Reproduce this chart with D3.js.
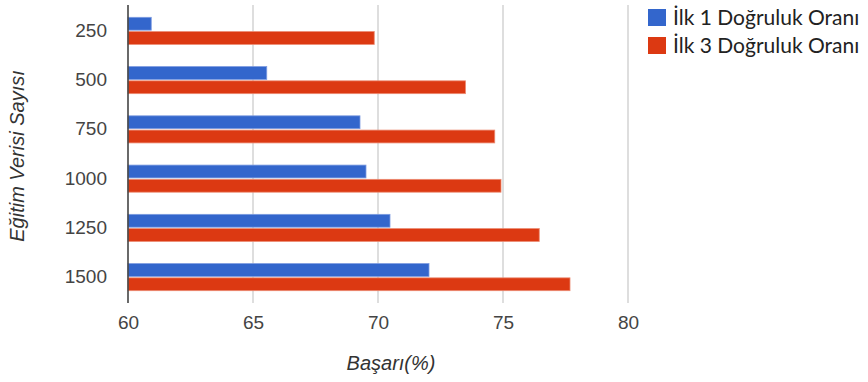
<!DOCTYPE html>
<html>
<head>
<meta charset="utf-8">
<script src="https://cdn.jsdelivr.net/npm/d3@7"></script>
<style>
  html, body { margin: 0; padding: 0; background: #fff; }
  svg { display: block; }
</style>
</head>
<body>
<svg id="chart" width="868" height="382"></svg>
<script>
const categories = ["250", "500", "750", "1000", "1250", "1500"];
const seriesNames = ["İlk 1 Doğruluk Oranı", "İlk 3 Doğruluk Oranı"];
const ilk1 = [60.93, 65.55, 69.28, 69.52, 70.48, 72.04];
const ilk3 = [69.85, 73.5, 74.67, 74.92, 76.45, 77.68];
const xTicks = [60, 65, 70, 75, 80];
const colors = ["#3366cc", "#dc3912"];
const strokeColors = ["#7d9be0", "#ec8a72"];

const svg = d3.select("#chart");
const plotLeft = 128, plotRight = 628, plotTop = 5, plotBottom = 303;

const x = d3.scaleLinear().domain([60, 80]).range([plotLeft, plotRight]);
const y0 = d3.scaleBand().domain(categories).range([plotTop, plotBottom]).paddingInner(0.45).paddingOuter(0.25);
const y1 = d3.scaleBand().domain(seriesNames).range([0, y0.bandwidth()]).paddingInner(0.1);

// gridlines
svg.append("g").selectAll("line").data(xTicks.filter(t => t !== 60)).join("line")
  .attr("x1", d => x(d)).attr("x2", d => x(d))
  .attr("y1", plotTop).attr("y2", plotBottom)
  .attr("stroke", "#d6d6d6").attr("stroke-width", 1.6);

// bars
const rows = categories.map((c, i) => ({ cat: c, vals: [ilk1[i], ilk3[i]] }));
const g = svg.append("g");
rows.forEach(r => {
  r.vals.forEach((v, si) => {
    g.append("rect")
      .attr("x", x(60))
      .attr("y", y0(r.cat) + y1(seriesNames[si]))
      .attr("width", x(v) - x(60))
      .attr("height", y1.bandwidth())
      .attr("fill", colors[si])
      .attr("stroke", strokeColors[si])
      .attr("stroke-width", 0.8);
  });
});

// axis line (baseline at 60)
svg.append("line")
  .attr("x1", x(60)).attr("x2", x(60))
  .attr("y1", plotTop).attr("y2", plotBottom)
  .attr("stroke", "#444").attr("stroke-width", 1.6);

// x axis labels
const xAxis = d3.axisBottom(x).tickValues(xTicks).tickSize(0).tickPadding(0).tickFormat(d3.format("d"));
const xg = svg.append("g").attr("transform", `translate(0, 315)`).call(xAxis);
xg.select(".domain").remove();
xg.selectAll("text")
  .attr("dy", "0.71em")
  .attr("font-family", "Liberation Sans, Arial, sans-serif")
  .attr("font-size", 19).attr("fill", "#444");

// y axis labels
const yAxis = d3.axisLeft(y0).tickSize(0).tickPadding(21);
const yg = svg.append("g").attr("transform", `translate(${x(60)},0)`).call(yAxis);
yg.select(".domain").remove();
yg.selectAll("text")
  .attr("font-family", "Liberation Sans, Arial, sans-serif")
  .attr("font-size", 19).attr("fill", "#444");

// axis titles
svg.append("text")
  .attr("x", 391).attr("y", 370)
  .attr("text-anchor", "middle")
  .attr("font-family", "Liberation Sans, Arial, sans-serif")
  .attr("font-style", "italic")
  .attr("font-size", 20).attr("fill", "#333")
  .text("Başarı(%)");

svg.append("text")
  .attr("transform", "translate(24,156) rotate(-90)")
  .attr("text-anchor", "middle")
  .attr("font-family", "Liberation Sans, Arial, sans-serif")
  .attr("font-style", "italic")
  .attr("font-size", 20).attr("fill", "#333")
  .text("Eğitim Verisi Sayısı");

// legend
const lg = svg.append("g").attr("transform", "translate(648, 8)");
seriesNames.forEach((n, i) => {
  const row = lg.append("g").attr("transform", `translate(0, ${i * 28})`);
  row.append("rect").attr("x", 0).attr("y", 1).attr("width", 18).attr("height", 17)
    .attr("fill", colors[i]);
  row.append("text").attr("x", 25).attr("y", 17)
    .attr("font-family", "Lato, 'Open Sans', sans-serif")
    .attr("font-size", 21).attr("fill", "#222")
    .text(n);
});
</script>
</body>
</html>
